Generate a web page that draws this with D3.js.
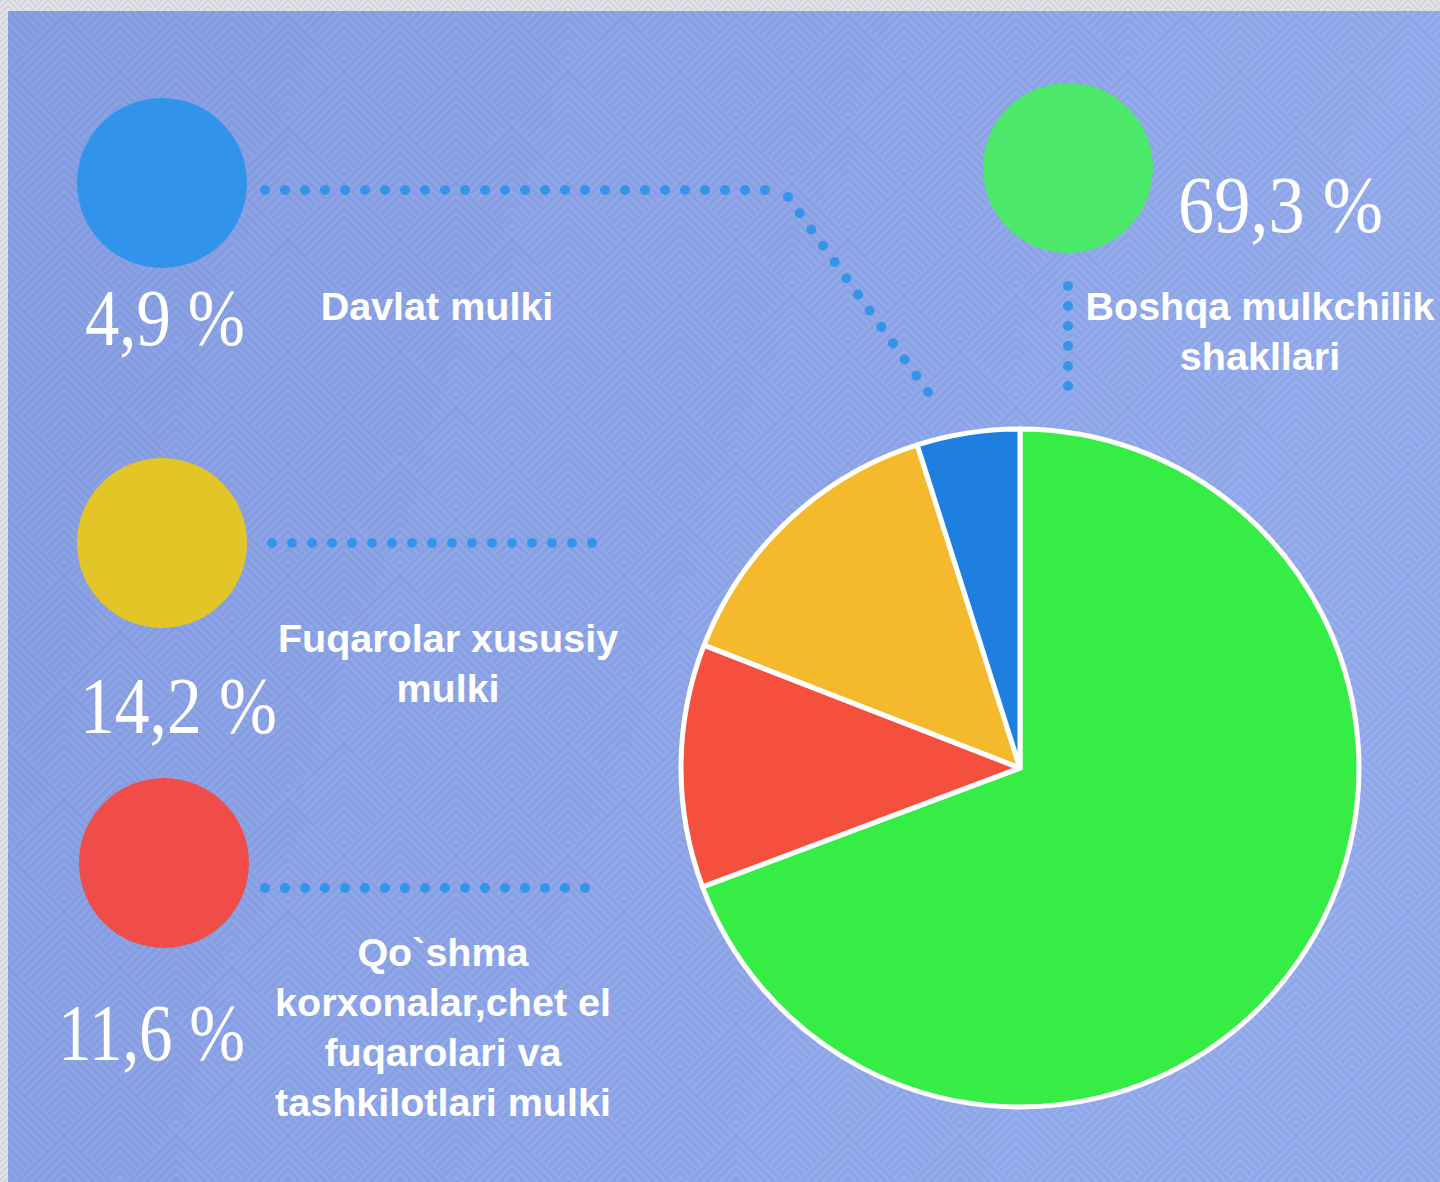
<!DOCTYPE html>
<html>
<head>
<meta charset="utf-8">
<script src="https://cdn.jsdelivr.net/npm/d3@7"></script>
<style>
  body { margin: 0; background: #e4e7eb; }
  svg { display: block; }
</style>
</head>
<body>
<div id="chart"></div>
<script>
// chart data
var categories = ["Davlat mulki", "Fuqarolar xususiy mulki", "Qo`shma korxonalar,chet el fuqarolari va tashkilotlari mulki", "Boshqa mulkchilik shakllari"];
var values = [4.9, 14.2, 11.6, 69.3];
var labelLines = [
  ["Davlat mulki"],
  ["Fuqarolar xususiy", "mulki"],
  ["Qo`shma", "korxonalar,chet el", "fuqarolari va", "tashkilotlari mulki"],
  ["Boshqa mulkchilik", "shakllari"]
];
var pieOrder = [3, 2, 1, 0]; // clockwise from 12 o'clock
var sliceColors = ["#1e7fe0", "#f5b92e", "#f5503d", "#36ed45"];
var dotColors = ["#3194ea", "#e2c628", "#ef4c4a", "#4be86a"];

var svgWidth = 1440;
var svgHeight = 1182;

// legend layout (one entry per category)
var layout = [
  { cx: 162, cy: 183, px: 85, py: 345, pw: 160, lx: 437, ly: 320 },
  { cx: 162, cy: 543, px: 80, py: 733, pw: 197, lx: 448, ly: 652 },
  { cx: 164, cy: 863, px: 58, py: 1060, pw: 187, lx: 443, ly: 966 },
  { cx: 1068, cy: 168, px: 1178, py: 232, pw: 205, lx: 1260, ly: 320 }
];

var svg = d3.select("#chart")
  .append("svg")
  .attr("width", svgWidth)
  .attr("height", svgHeight);

var defs = svg.append("defs");

var grad = defs.append("linearGradient")
  .attr("id", "bg")
  .attr("x1", "0").attr("y1", "0").attr("x2", "1").attr("y2", "0.3");
grad.append("stop").attr("offset", "0").attr("stop-color", "#8aa2e4");
grad.append("stop").attr("offset", "1").attr("stop-color", "#99b1ef");

// nested chevron pattern
function chevronPattern(id, color, P, step, sw) {
  var h = P / 2;
  var pat = defs.append("pattern")
    .attr("id", id)
    .attr("patternUnits", "userSpaceOnUse")
    .attr("x", 8).attr("y", 11)
    .attr("width", P).attr("height", P);
  var centers = [[h, h], [0, 0], [P, 0], [0, P], [P, P]];
  centers.forEach(function(c) {
    for (var d = step / 2; d < P; d += step) {
      pat.append("path")
        .attr("d", "M" + (c[0] - h + d / 2) + "," + (c[1] + d / 2) +
          "L" + c[0] + "," + (c[1] - h + d) +
          "L" + (c[0] + h - d / 2) + "," + (c[1] + d / 2))
        .attr("fill", "none")
        .attr("stroke", color)
        .attr("stroke-width", sw);
    }
  });
}
chevronPattern("chev", "rgba(70,100,185,0.12)", 112, 8.5, 4);
chevronPattern("chevGray", "rgba(150,155,165,0.25)", 40, 6, 2.5);

// frame + background
svg.append("rect").attr("width", svgWidth).attr("height", svgHeight).attr("fill", "#e6e8ec");
svg.append("rect").attr("width", svgWidth).attr("height", svgHeight).attr("fill", "url(#chevGray)");
svg.append("rect").attr("x", 8).attr("y", 11).attr("width", svgWidth - 8).attr("height", svgHeight - 11).attr("fill", "url(#bg)");
svg.append("rect").attr("x", 8).attr("y", 11).attr("width", svgWidth - 8).attr("height", svgHeight - 11).attr("fill", "url(#chev)");

// dotted connectors
var connectors = [
  "M265,190H766", "M788,197L928,392",
  "M272,543H593",
  "M265,888H586",
  "M1068,286V387"
];
svg.append("g").selectAll("path")
  .data(connectors)
  .enter()
  .append("path")
  .attr("d", d => d)
  .attr("fill", "none")
  .attr("stroke", "#3394ea")
  .attr("stroke-width", 10)
  .attr("stroke-linecap", "round")
  .attr("stroke-dasharray", "0 20");

// pie
var pieData = pieOrder.map(i => ({ idx: i, value: values[i] }));
var pie = d3.pie().sort(null).value(d => d.value);
var arc = d3.arc().innerRadius(0).outerRadius(339);

var pieGroup = svg.append("g")
  .attr("transform", "translate(1020, 768)");

pieGroup.selectAll("path")
  .data(pie(pieData))
  .enter()
  .append("path")
  .attr("d", arc)
  .attr("fill", d => sliceColors[d.data.idx])
  .attr("stroke", "#ffffff")
  .attr("stroke-width", 5)
  .attr("stroke-linejoin", "round");

// legend circles
svg.append("g").selectAll("circle")
  .data(categories)
  .enter()
  .append("circle")
  .attr("cx", (d, i) => layout[i].cx)
  .attr("cy", (d, i) => layout[i].cy)
  .attr("r", 85)
  .attr("fill", (d, i) => dotColors[i]);

// percentage numbers
svg.append("g").selectAll("text")
  .data(values)
  .enter()
  .append("text")
  .attr("x", (d, i) => layout[i].px)
  .attr("y", (d, i) => layout[i].py)
  .attr("font-family", "'Liberation Serif', serif")
  .attr("font-size", 80)
  .attr("fill", "#ffffff")
  .attr("textLength", (d, i) => layout[i].pw)
  .attr("lengthAdjust", "spacingAndGlyphs")
  .text(d => String(d).replace(".", ",") + " %");

// category labels
var labels = svg.append("g").selectAll("text")
  .data(categories)
  .enter()
  .append("text")
  .attr("text-anchor", "middle")
  .attr("font-family", "'Liberation Sans', Arial, sans-serif")
  .attr("font-weight", "bold")
  .attr("font-size", 39.5)
  .attr("fill", "#ffffff");

labels.each(function(d, i) {
  var t = d3.select(this);
  labelLines[i].forEach(function(line, j) {
    t.append("tspan")
      .attr("x", layout[i].lx)
      .attr("y", layout[i].ly + j * 50)
      .text(line);
  });
});
</script>
</body>
</html>
